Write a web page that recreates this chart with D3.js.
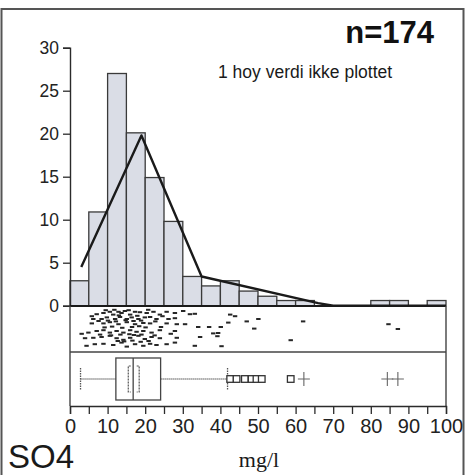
<!DOCTYPE html>
<html>
<head>
<meta charset="utf-8">
<script src="https://cdn.jsdelivr.net/npm/d3@7"></script>
<style>
  html, body { margin: 0; padding: 0; background: #fff; }
  svg { display: block; }
</style>
</head>
<body>
<svg id="chart" width="466" height="475"></svg>
<script>
// Histogram of SO4 (mg/l), percent of samples per 5 mg/l bin
const binStarts = [0,5,10,15,20,25,30,35,40,45,50,55,60,65,70,75,80,85,90,95];
const binPercent = [2.9,10.9,27.0,20.1,14.9,9.8,3.4,2.3,2.9,1.7,1.1,0.6,0.6,0,0,0,0.6,0.6,0,0.6];

// Smoothed distribution line (mg/l, percent)
const curveX = [3, 19, 35, 66, 70, 100];
const curveY = [4.5, 19.8, 3.4, 0.3, 0, 0];

// Jittered strip of individual samples: value (mg/l) and vertical jitter (0 top .. 1 bottom)
const stripX = [5.8,7.1,8.9,10.6,11.5,12.9,13.7,14.6,16.0,17.3,18.6,20.4,22.2,23.9,25.7,27.9,30.1,31.9,
  6.2,8.4,9.8,12.0,13.3,15.1,16.4,18.2,19.9,21.3,23.0,26.2,27.9,
  5.8,8.9,10.6,12.9,15.1,17.3,19.5,21.3,25.7,28.4,30.6,
  3.1,4.9,7.1,8.9,10.6,12.4,14.2,16.0,17.7,19.5,21.7,23.9,27.9,
  4.0,6.2,8.4,10.6,12.4,14.2,16.0,18.2,19.9,21.7,23.9,28.4,
  4.4,6.6,8.9,11.5,13.7,15.1,17.3,19.5,21.3,23.0,25.7,27.9,
  9.5,11.8,13.0,15.6,17.9,20.8,24.6,
  7.6,10.1,12.2,14.8,16.9,18.9,22.7,
  9.2,11.2,13.9,16.5,18.4,20.1,24.2,
  8.0,10.9,13.4,15.8,17.0,19.0,22.5,26.8,
  12.7,14.4,16.6,18.8,20.9,
  33.2,42.6,43.9,47.0,50.1,62.0,34.1,37.0,40.1,42.1,49.0,38.1,39.4,39.2,34.6,58.7,33.2,40.3,84.7,87.2];
const stripY = [0.18,0.13,0.10,0.07,0.14,0.07,0.10,0.05,0.14,0.07,0.08,0.10,0.07,0.14,0.07,0.10,0.05,0.13,
  0.25,0.25,0.21,0.25,0.20,0.25,0.21,0.25,0.21,0.20,0.25,0.25,0.23,
  0.36,0.36,0.33,0.38,0.33,0.38,0.35,0.36,0.36,0.38,0.38,
  0.62,0.59,0.55,0.53,0.59,0.55,0.59,0.53,0.57,0.55,0.59,0.53,0.55,
  0.73,0.72,0.70,0.67,0.73,0.77,0.72,0.67,0.75,0.70,0.73,0.72,
  0.92,0.88,0.87,0.90,0.84,0.94,0.88,0.92,0.87,0.90,0.88,0.84,
  0.03,0.02,0.16,0.03,0.17,0.02,0.18,
  0.30,0.29,0.31,0.28,0.30,0.29,0.31,
  0.46,0.44,0.47,0.45,0.43,0.46,0.45,
  0.64,0.66,0.64,0.63,0.65,0.64,0.66,0.62,
  0.80,0.81,0.79,0.82,0.80,
  0.12,0.14,0.18,0.31,0.25,0.31,0.45,0.45,0.45,0.34,0.49,0.61,0.60,0.68,0.70,0.78,0.92,0.93,0.38,0.50];

// Box plot summary (mg/l)
const whiskerLow = 2.8, q1 = 12.2, median = 16.8, q3 = 24.1, whiskerHigh = 41.9;
const notchLow = 15.5, notchHigh = 18.4;
const outsideValues = [42.6, 44.3, 46.5, 48.3, 49.6, 51.0, 58.7];
const farOutValues = [62.2, 84.4, 87.2];

const xTicks = [0,10,20,30,40,50,60,70,80,90,100];
const yTicks = [0,5,10,15,20,25,30];
const binWidth = 5;

const svg = d3.select("#chart");
const ink = "#2b2b2b";

const x = d3.scaleLinear().domain([0, 100]).range([70, 446]);
const y = d3.scaleLinear().domain([0, 30]).range([305.7, 47.7]);

// outer frame
svg.append("path")
  .attr("d", "M1.5,480 V9 H463.5 V480")
  .attr("fill", "none").attr("stroke", "#555").attr("stroke-width", 2);

// histogram bars
svg.append("g").selectAll("rect")
  .data(binStarts.map((s, i) => ({ s, v: binPercent[i] })).filter(d => d.v > 0))
  .join("rect")
  .attr("x", d => x(d.s))
  .attr("width", d => x(d.s + binWidth) - x(d.s))
  .attr("y", d => y(d.v))
  .attr("height", d => y(0) - y(d.v))
  .attr("fill", "#dadde6")
  .attr("stroke", "#3a3a3a")
  .attr("stroke-width", 1.3);

// distribution line
const line = d3.line().x(d => x(d[0])).y(d => y(d[1]));
svg.append("path")
  .datum(curveX.map((v, i) => [v, curveY[i]]))
  .attr("d", line)
  .attr("fill", "none").attr("stroke", "#1a1a1a").attr("stroke-width", 2.4)
  .attr("stroke-linejoin", "round");

// y axis
const yAxis = svg.append("g")
  .attr("transform", `translate(${x(0)},0)`)
  .call(d3.axisLeft(y).tickValues(yTicks).tickSize(7).tickPadding(5));
yAxis.select(".domain").attr("stroke", ink).attr("stroke-width", 1.4);
yAxis.selectAll(".tick line").attr("stroke", ink).attr("stroke-width", 1.3);
yAxis.selectAll(".tick text")
  .attr("font-family", "Liberation Sans, Arial, sans-serif")
  .attr("font-size", 19).attr("fill", "#222")
  .attr("transform", "scale(0.92,1)");

// panels below histogram
const stripTop = 306, stripBottom = 352, boxBottom = 406;
svg.append("line").attr("x1", x(0)).attr("x2", x(100)).attr("y1", stripTop).attr("y2", stripTop)
  .attr("stroke", "#1a1a1a").attr("stroke-width", 2.2);
svg.append("line").attr("x1", x(0)).attr("x2", x(100)).attr("y1", stripBottom).attr("y2", stripBottom)
  .attr("stroke", "#444").attr("stroke-width", 1.4);
svg.append("line").attr("x1", x(0)).attr("x2", x(0)).attr("y1", stripTop).attr("y2", boxBottom)
  .attr("stroke", "#444").attr("stroke-width", 1.4);
svg.append("line").attr("x1", x(100)).attr("x2", x(100)).attr("y1", stripTop).attr("y2", boxBottom)
  .attr("stroke", "#444").attr("stroke-width", 1.4);

// jittered strip
const sy = d3.scaleLinear().domain([0, 1]).range([stripTop + 3, stripBottom - 3]);
svg.append("g").selectAll("rect")
  .data(stripX.map((v, i) => [v, stripY[i]]))
  .join("rect")
  .attr("x", d => x(d[0]) - 2.2)
  .attr("y", d => sy(d[1]) - 1)
  .attr("width", 4.4).attr("height", 2)
  .attr("fill", "#262626");

// box plot
const by = 379, boxTop = 358, boxBot = 400;
const bp = svg.append("g");
bp.append("line").attr("x1", x(whiskerLow)).attr("x2", x(q1)).attr("y1", by).attr("y2", by)
  .attr("stroke", "#555").attr("stroke-width", 1.3).attr("stroke-dasharray", "1,1");
bp.append("line").attr("x1", x(q3)).attr("x2", x(whiskerHigh)).attr("y1", by).attr("y2", by)
  .attr("stroke", "#555").attr("stroke-width", 1.3).attr("stroke-dasharray", "1,1");
[whiskerLow, whiskerHigh].forEach(v => {
  bp.append("line").attr("x1", x(v)).attr("x2", x(v)).attr("y1", by - 11).attr("y2", by + 11)
    .attr("stroke", "#555").attr("stroke-width", 1.3).attr("stroke-dasharray", "1.5,1");
});
bp.append("rect").attr("x", x(q1)).attr("width", x(q3) - x(q1))
  .attr("y", boxTop).attr("height", boxBot - boxTop)
  .attr("fill", "none").attr("stroke", "#444").attr("stroke-width", 1.3);
bp.append("line").attr("x1", x(median)).attr("x2", x(median)).attr("y1", boxTop).attr("y2", boxBot)
  .attr("stroke", "#444").attr("stroke-width", 1.3);
// confidence brackets around the median
[[notchLow, 1], [notchHigh, -1]].forEach(([v, dir]) => {
  const px = x(v);
  bp.append("path")
    .attr("d", `M${px + dir * 2.5},${by - 13} H${px} V${by + 13} H${px + dir * 2.5}`)
    .attr("fill", "none").attr("stroke", "#555").attr("stroke-width", 1.2)
    .attr("stroke-dasharray", "2,1");
});
bp.selectAll(".out").data(outsideValues).join("rect").attr("class", "out")
  .attr("x", d => x(d) - 3.3).attr("y", by - 3.3).attr("width", 6.6).attr("height", 6.6)
  .attr("fill", "#fff").attr("stroke", "#333").attr("stroke-width", 1.3);
bp.selectAll(".far").data(farOutValues).join("path").attr("class", "far")
  .attr("d", d => `M${x(d) - 6},${by} H${x(d) + 6} M${x(d)},${by - 7} V${by + 7}`)
  .attr("stroke", "#666").attr("stroke-width", 1.1);

// x axis
const xAxis = svg.append("g")
  .attr("transform", `translate(0,${boxBottom})`)
  .call(d3.axisBottom(x).tickValues(d3.range(0, 101, 5)).tickSize(8).tickPadding(5)
    .tickFormat(d => xTicks.includes(d) ? d : ""));
xAxis.select(".domain").attr("stroke", ink).attr("stroke-width", 1.4);
xAxis.selectAll(".tick line").attr("stroke", ink).attr("stroke-width", 1.3);
xAxis.selectAll(".tick text")
  .attr("font-family", "Liberation Sans, Arial, sans-serif")
  .attr("font-size", 20).attr("fill", "#222");

// annotations
svg.append("text").attr("x", 434).attr("y", 43).attr("text-anchor", "end")
  .attr("font-family", "Liberation Sans, Arial, sans-serif").attr("font-weight", "bold")
  .attr("font-size", 31).attr("fill", "#111").text("n=174");
svg.append("text").attr("x", 218).attr("y", 78)
  .attr("font-family", "Liberation Sans, Arial, sans-serif")
  .attr("font-size", 17.5).attr("fill", "#1a1a1a").text("1 hoy verdi ikke plottet");
svg.append("text").attr("x", 8).attr("y", 468)
  .attr("font-family", "Liberation Sans, Arial, sans-serif")
  .attr("font-size", 33).attr("fill", "#1a1a1a").text("SO4");
svg.append("text").attr("x", 259).attr("y", 467).attr("text-anchor", "middle")
  .attr("font-family", "Liberation Serif, Times New Roman, serif")
  .attr("font-size", 22).attr("fill", "#1a1a1a").text("mg/l");
</script>
</body>
</html>
